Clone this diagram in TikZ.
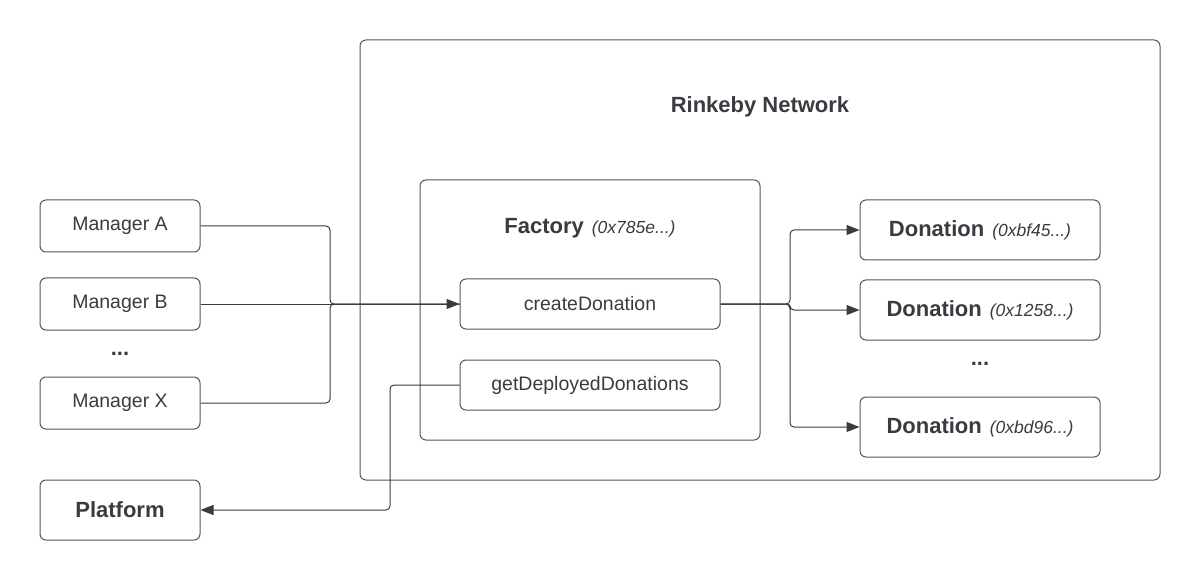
\documentclass[tikz,border=0pt]{standalone}
\usepackage{fontspec}
\setmainfont{Liberation Sans}
\usetikzlibrary{arrows.meta}
\definecolor{ink}{HTML}{3A3B40}
\definecolor{edge}{HTML}{55565B}
\begin{document}
\begin{tikzpicture}[x=1pt,y=-1pt,
  box/.style={draw=edge,line width=1pt,rounded corners=6pt,text=ink,align=center,inner sep=0pt},
  conn/.style={draw=ink,line width=1pt,rounded corners=4pt},
  tip/.style={-{Triangle[length=13pt,width=10pt]}},
  reg/.style={font=\fontsize{19.5}{23}\selectfont},
  big/.style={font=\fontsize{22}{26}\selectfont\bfseries},
  lbl/.style={text=ink,inner sep=0pt}]
\newcommand{\bigb}[1]{{\fontsize{22}{26}\selectfont\bfseries #1}}
\newcommand{\addr}[1]{\hspace{8pt}{\fontsize{17.5}{21}\selectfont\itshape #1}}
\useasboundingbox (0,0) rectangle (1200,580);
% outer network
\node[box,minimum width=800pt,minimum height=440pt] (net) at (760,260) {};
\node[lbl,big] (nettitle) at (760,107) {Rinkeby Network};
% factory
\node[box,minimum width=340pt,minimum height=260pt] (fac) at (590,310) {};
\node[lbl] (factitle) at (590,228) {\bigb{Factory}\addr{(0x785e...)}};
\node[box,minimum width=260pt,minimum height=50pt,reg] (create) at (590,304) {createDonation};
\node[box,minimum width=260pt,minimum height=50pt,reg] (get) at (590,385) {getDeployedDonations};
% managers
\node[box,minimum width=160pt,minimum height=52pt,reg] (ma) at (120,226) {Manager A};
\node[box,minimum width=160pt,minimum height=52pt,reg] (mb) at (120,304) {Manager B};
\node[lbl,big] (mdots) at (120,354) {...};
\node[box,minimum width=160pt,minimum height=52pt,reg] (mx) at (120,403) {Manager X};
\node[box,minimum width=160pt,minimum height=60pt,big] (plat) at (120,510) {Platform};
% donations
\node[box,minimum width=240pt,minimum height=60pt] (d1) at (980,230) {\bigb{Donation}\addr{(0xbf45...)}};
\node[box,minimum width=240pt,minimum height=60pt] (d2) at (980,310) {\bigb{Donation}\addr{(0x1258...)}};
\node[lbl,big] (ddots) at (980,364) {...};
\node[box,minimum width=240pt,minimum height=60pt] (d3) at (980,427) {\bigb{Donation}\addr{(0xbd96...)}};
% connectors
\draw[conn] (ma.east) -| (330,304) -- (create.west);
\draw[conn] (mx.east) -| (330,304) -- (create.west);
\draw[conn,tip] (mb.east) -- (create.west);
\draw[conn,tip] (create.east) -| (790,230) -- (d1.west);
\draw[conn,tip] (create.east) -- (790,304) |- (d2.west);
\draw[conn,tip] (create.east) -| (790,427) -- (d3.west);
\draw[conn,tip] (get.west) -| (390,510) -- (plat.east);
\end{tikzpicture}
\end{document}
